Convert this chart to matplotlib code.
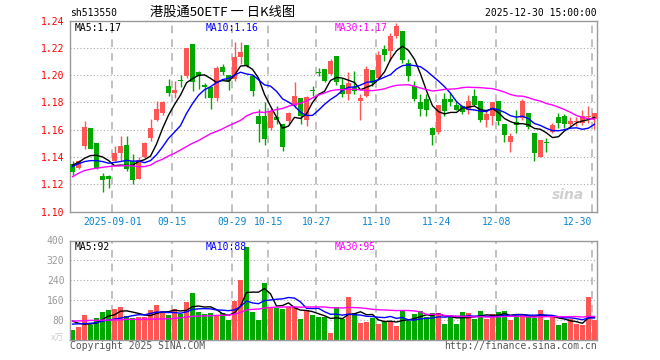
import numpy as np
import pandas as pd
import matplotlib
matplotlib.use("Agg")
import matplotlib.pyplot as plt

# trading days shown (National Day holiday removed)
dates = pd.bdate_range("2025-08-21", "2025-12-30")
dates = dates[(dates < "2025-10-01") | (dates > "2025-10-08")]

open_ = [1.135, 1.132, 1.148, 1.161, 1.150, 1.126, 1.126, 1.137, 1.143, 1.149,
         1.137, 1.124, 1.140, 1.154, 1.167, 1.172, 1.192, 1.187, 1.1962, 1.199,
         1.223, 1.202, 1.193, 1.191, 1.183, 1.206, 1.200, 1.197, 1.213, 1.222,
         1.199, 1.170, 1.170, 1.161, 1.169, 1.164, 1.166, 1.177, 1.183, 1.167,
         1.1888, 1.2022, 1.2045, 1.201, 1.214, 1.193, 1.186, 1.191, 1.181, 1.185,
         1.204, 1.198, 1.219, 1.2175, 1.2286, 1.232, 1.209, 1.192, 1.180, 1.1825,
         1.161, 1.158, 1.1825, 1.1825, 1.178, 1.177, 1.1746, 1.185, 1.1807, 1.1673,
         1.1702, 1.1807, 1.1643, 1.1512, 1.1653, 1.1685, 1.1721, 1.1575, 1.1403, 1.1507,
         1.158, 1.169, 1.1702, 1.1641, 1.1658, 1.165, 1.1695, 1.168]
high = [1.137, 1.138, 1.166, 1.161, 1.150, 1.128, 1.127, 1.148, 1.155, 1.155,
        1.142, 1.140, 1.151, 1.168, 1.181, 1.181, 1.197, 1.196, 1.200, 1.220,
        1.223, 1.203, 1.194, 1.192, 1.207, 1.208, 1.200, 1.224, 1.224, 1.222,
        1.200, 1.175, 1.180, 1.176, 1.177, 1.164, 1.173, 1.195, 1.183, 1.185,
        1.192, 1.205, 1.2045, 1.212, 1.214, 1.198, 1.202, 1.203, 1.186, 1.207,
        1.204, 1.2175, 1.222, 1.231, 1.238, 1.232, 1.2115, 1.1955, 1.186, 1.186,
        1.162, 1.178, 1.1865, 1.187, 1.181, 1.178, 1.1857, 1.190, 1.1807, 1.1734,
        1.180, 1.1807, 1.1643, 1.1579, 1.1746, 1.1825, 1.1721, 1.1575, 1.1525, 1.1537,
        1.1648, 1.1722, 1.1717, 1.1692, 1.1692, 1.1746, 1.1776, 1.1722]
low = [1.127, 1.131, 1.146, 1.146, 1.131, 1.114, 1.117, 1.137, 1.137, 1.130,
       1.120, 1.124, 1.139, 1.152, 1.166, 1.171, 1.185, 1.183, 1.191, 1.198,
       1.188, 1.190, 1.183, 1.175, 1.181, 1.200, 1.189, 1.196, 1.208, 1.206,
       1.185, 1.151, 1.149, 1.160, 1.164, 1.144, 1.164, 1.176, 1.164, 1.163,
       1.185, 1.199, 1.195, 1.200, 1.193, 1.184, 1.182, 1.186, 1.167, 1.184,
       1.192, 1.197, 1.210, 1.210, 1.227, 1.209, 1.196, 1.181, 1.170, 1.170,
       1.149, 1.157, 1.170, 1.177, 1.1745, 1.1717, 1.1717, 1.177, 1.1653, 1.1617,
       1.1634, 1.1636, 1.1506, 1.1437, 1.1579, 1.1673, 1.1604, 1.1367, 1.1398, 1.1439,
       1.1574, 1.1612, 1.1612, 1.1624, 1.1624, 1.1636, 1.1649, 1.1604]
close = [1.129, 1.137, 1.162, 1.146, 1.132, 1.123, 1.124, 1.143, 1.148, 1.131,
         1.123, 1.138, 1.150, 1.161, 1.175, 1.180, 1.187, 1.189, 1.1958, 1.220,
         1.195, 1.199, 1.191, 1.183, 1.205, 1.202, 1.196, 1.213, 1.217, 1.207,
         1.188, 1.164, 1.153, 1.174, 1.167, 1.147, 1.172, 1.185, 1.170, 1.184,
         1.1884, 1.2018, 1.196, 1.210, 1.195, 1.186, 1.194, 1.188, 1.183, 1.2045,
         1.194, 1.215, 1.215, 1.2286, 1.236, 1.211, 1.1996, 1.1825, 1.175, 1.1746,
         1.156, 1.178, 1.174, 1.1805, 1.1746, 1.1727, 1.1807, 1.178, 1.1668, 1.1717,
         1.180, 1.166, 1.1562, 1.1555, 1.1636, 1.1807, 1.1617, 1.1428, 1.1525, 1.1503,
         1.1636, 1.1649, 1.1641, 1.1665, 1.1662, 1.170, 1.170, 1.172]
volume = [40, 53, 100, 60, 89, 113, 120, 124, 133, 96,
          89, 93, 93, 120, 140, 116, 100, 124, 104, 153,
          189, 113, 104, 109, 96, 107, 80, 156, 240, 373,
          113, 80, 229, 133, 127, 124, 133, 133, 84, 120,
          100, 91, 93, 29, 133, 84, 173, 109, 69, 73,
          89, 64, 76, 76, 56, 120, 76, 104, 115, 91,
          108, 109, 64, 100, 64, 112, 109, 84, 116, 84,
          104, 112, 116, 80, 100, 104, 95, 89, 120, 82,
          92, 60, 68, 84, 64, 60, 172, 80]

# moving-average values before a full window exists
ma5_head = [1.134, 1.136, 1.139, 1.141]
ma10_head = [1.133, 1.135, 1.1366, 1.1373, 1.1373, 1.1366, 1.1354, 1.136, 1.1366]
ma30_head = [1.1255, 1.128, 1.130, 1.131, 1.1317, 1.1324, 1.1329, 1.1334, 1.1334, 1.1336,
             1.1334, 1.1329, 1.1329, 1.134, 1.1366, 1.1383, 1.1407, 1.1427, 1.1451, 1.1476,
             1.150, 1.152, 1.1545, 1.157, 1.1587, 1.1606, 1.1628, 1.1648, 1.1668]
vma5_head = [76, 67, 64, 64]
vma10_head = [64, 65, 66, 67, 70, 76, 80, 84, 88]
vma30_head = [76, 77, 77, 79, 79, 80, 80, 81, 81, 83,
              83, 83, 84, 84, 84, 85, 85, 87, 89, 92,
              95, 96, 97, 97, 99, 99, 100, 104, 111]

tick_dates = ["2025-09-01", "2025-09-15", "2025-09-29", "2025-10-15", "2025-10-27",
              "2025-11-10", "2025-11-24", "2025-12-08", "2025-12-30"]
tick_labels = ["2025-09-01", "09-15", "09-29", "10-15", "10-27",
               "11-10", "11-24", "12-08", "12-30"]
price_ticks = [1.10, 1.12, 1.14, 1.16, 1.18, 1.20, 1.22, 1.24]
vol_ticks = [80, 160, 240, 320, 400]


def moving(values, n, head):
    out = pd.Series(values, dtype=float).rolling(n).mean().to_numpy()
    out[:n - 1] = head
    return out


ma5 = moving(close, 5, ma5_head)
ma10 = moving(close, 10, ma10_head)
ma30 = moving(close, 30, ma30_head)
vma5 = moving(volume, 5, vma5_head)
vma10 = moving(volume, 10, vma10_head)
vma30 = moving(volume, 30, vma30_head)

RED = "#ff5555"
GREEN = "#00a800"
GRID = "#aaaaaa"
MONO = "DejaVu Sans Mono"
W, H = 660, 360

x = np.arange(len(close))
o = np.array(open_)
c = np.array(close)
up = c >= o
colors = np.where(up, RED, GREEN)
tick_pos = [dates.get_loc(pd.Timestamp(d)) - 0.35 for d in tick_dates]

fig = plt.figure(figsize=(W / 100, H / 100), dpi=100)
ax = fig.add_axes([70 / W, 1 - 211.5 / H, 527 / W, 191 / H])
axv = fig.add_axes([70 / W, 1 - 340 / H, 527 / W, 99.5 / H])

for a in (ax, axv):
    a.set_xlim(-0.42, 87.42)
    for s in a.spines.values():
        s.set_color("#999999")
        s.set_linewidth(1.0)
    a.set_xticks([])
    a.tick_params(axis="y", length=0, pad=4)
    for p in tick_pos:
        a.axvline(p, color="#b0b0b0", lw=1.1, ls=(0, (5, 4)), zorder=0)

# price panel
ax.set_ylim(1.10, 1.24)
for t in price_ticks[1:-1]:
    ax.axhline(t, color=GRID, lw=0.8, ls=(0, (1, 2)), zorder=0)
ax.set_yticks(price_ticks)
ax.set_yticklabels([f"{t:.2f}" for t in price_ticks], color="red",
                   fontsize=7, family=MONO)

ax.vlines(x, low, high, colors=colors, lw=1.0, zorder=2)
body = np.maximum(np.abs(c - o), 0.0006)
ax.bar(x, body, bottom=np.minimum(o, c), width=0.83, color=colors, zorder=3,
       linewidth=0)
ax.plot(x, ma5, color="black", lw=1.0, zorder=4)
ax.plot(x, ma10, color="blue", lw=1.0, zorder=4)
ax.plot(x, ma30, color="magenta", lw=1.0, zorder=4)

ax.text(0.008, 0.985, f"MA5:{ma5[-1]:.2f}", transform=ax.transAxes, color="black",
        fontsize=7, family=MONO, va="top")
ax.text(0.257, 0.985, f"MA10:{ma10[-1]:.2f}", transform=ax.transAxes, color="blue",
        fontsize=7, family=MONO, va="top")
ax.text(0.503, 0.985, f"MA30:{ma30[-1]:.2f}", transform=ax.transAxes, color="magenta",
        fontsize=7, family=MONO, va="top")
ax.text(0.975, 0.05, "sina", transform=ax.transAxes, color="#d0d0d0", fontsize=10,
        fontstyle="italic", fontweight="bold", ha="right", va="bottom", zorder=1)

# date labels between panels
for p, lab in zip(tick_pos, tick_labels):
    xf = ax.transData.transform((p, 1.10))[0] / W
    ha = "right" if lab == tick_labels[-1] else "center"
    fig.text(xf, 1 - 222 / H, lab, color="#0a84d0", fontsize=7, family=MONO,
             ha=ha, va="center")

# volume panel
axv.set_ylim(0, 400)
for t in vol_ticks[:-1]:
    axv.axhline(t, color=GRID, lw=0.8, ls=(0, (1, 2)), zorder=0)
axv.set_yticks(vol_ticks)
axv.set_yticklabels([str(t) for t in vol_ticks], color="#999999", fontsize=7, family=MONO)
axv.bar(x, volume, width=0.83, color=colors, linewidth=0, zorder=2)
axv.plot(x, vma5, color="black", lw=1.0, zorder=4)
axv.plot(x, vma10, color="blue", lw=1.0, zorder=4)
axv.plot(x, vma30, color="magenta", lw=1.0, zorder=4)
axv.text(0.008, 0.985, f"MA5:{vma5[-1]:.0f}", transform=axv.transAxes, color="black",
         fontsize=7, family=MONO, va="top")
axv.text(0.257, 0.985, f"MA10:{vma10[-1]:.0f}", transform=axv.transAxes, color="blue",
         fontsize=7, family=MONO, va="top")
axv.text(0.503, 0.985, f"MA30:{vma30[-1]:.0f}", transform=axv.transAxes,
         color="magenta", fontsize=7, family=MONO, va="top")

# header and footer
fig.text(70 / W, 1 - 13 / H, "sh513550", fontsize=7, family=MONO, va="center")
fig.text(223 / W, 1 - 12 / H, "港股通50ETF 一 日K线图", fontsize=9.5,
         family=["Noto Sans CJK SC", "DejaVu Sans"], ha="center", va="center")
fig.text(597 / W, 1 - 13 / H, "2025-12-30 15:00:00", fontsize=7, family=MONO,
         ha="right", va="center")
fig.text(70 / W, 1 - 346 / H, "Copyright 2025 SINA.COM", fontsize=7, family=MONO,
         color="#555555", va="center")
fig.text(597 / W, 1 - 346 / H, "http://finance.sina.com.cn", fontsize=7, family=MONO,
         color="#555555", ha="right", va="center")
fig.text(64 / W, 1 - 338 / H, "x万", fontsize=6.5, color="#cccccc",
         family=["Noto Sans CJK SC", "DejaVu Sans"], ha="right", va="center")

fig.savefig("out.png", dpi=100)
